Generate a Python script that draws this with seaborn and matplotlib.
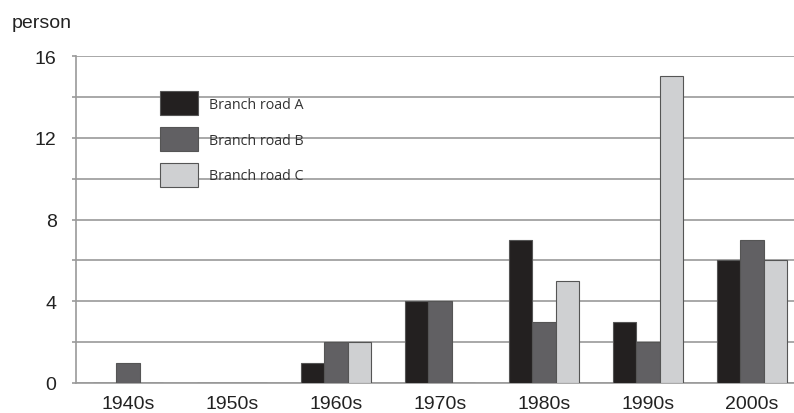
import pandas as pd
import matplotlib
matplotlib.use("Agg")
import matplotlib.pyplot as plt
import seaborn as sns

# Chart data
decades = ["1940s", "1950s", "1960s", "1970s", "1980s", "1990s", "2000s"]
road_a = [0, 0, 1, 4, 7, 3, 6]
road_b = [1, 0, 2, 4, 3, 2, 7]
road_c = [0, 0, 2, 0, 5, 15, 6]
series_names = ["Branch road A", "Branch road B", "Branch road C"]
series_colors = ["#231f20", "#616063", "#cfd0d2"]

df = pd.DataFrame({"decade": decades, series_names[0]: road_a,
                   series_names[1]: road_b, series_names[2]: road_c})
df = df.melt(id_vars="decade", var_name="road", value_name="count")

sns.set_style("white")
plt.rcParams["font.family"] = ["Liberation Sans", "DejaVu Sans"]

fig = plt.figure(figsize=(7.94, 4.14), dpi=100)
ax = fig.add_axes([76 / 794, 30 / 414, 728 / 794, 327 / 414])

sns.barplot(data=df, x="decade", y="count", hue="road", order=decades,
            hue_order=series_names, palette=series_colors, width=0.67,
            edgecolor="#555555", linewidth=0.8, ax=ax, zorder=3)

ax.set_ylim(0, 16)
ax.set_xlim(-0.5, len(decades) - 0.5)
ax.set_yticks(range(0, 17, 2))
ax.set_yticklabels([str(v) if v % 4 == 0 else "" for v in range(0, 17, 2)])
ax.yaxis.grid(True, color="#9a9a9a", linewidth=1.2, zorder=0)
ax.set_axisbelow(True)
ax.tick_params(axis="y", length=3, color="#9a9a9a", width=1.2, pad=11,
               labelsize=14, labelcolor="#222222", left=True)
ax.tick_params(axis="x", length=0, pad=9, labelsize=14, labelcolor="#222222")
ax.set_xlabel("")
ax.set_ylabel("")

for side in ["top", "right"]:
    ax.spines[side].set_visible(False)
for side in ["left", "bottom"]:
    ax.spines[side].set_color("#9a9a9a")
    ax.spines[side].set_linewidth(1.2)

handles, labels = ax.get_legend_handles_labels()
leg = ax.legend(handles, labels, loc="upper left", bbox_to_anchor=(0.115, 0.893),
                frameon=False, handlelength=2.66, handleheight=2.25,
                labelspacing=0.8, handletextpad=0.8, borderpad=0, borderaxespad=0,
                prop={"family": "Open Sans", "size": 10.3})
for t in leg.get_texts():
    t.set_color("#333333")

fig.text(12 / 794, 1 - 28 / 414, "person", fontsize=14, color="#222222",
         va="baseline", ha="left")

fig.savefig("out.png", dpi=100)
